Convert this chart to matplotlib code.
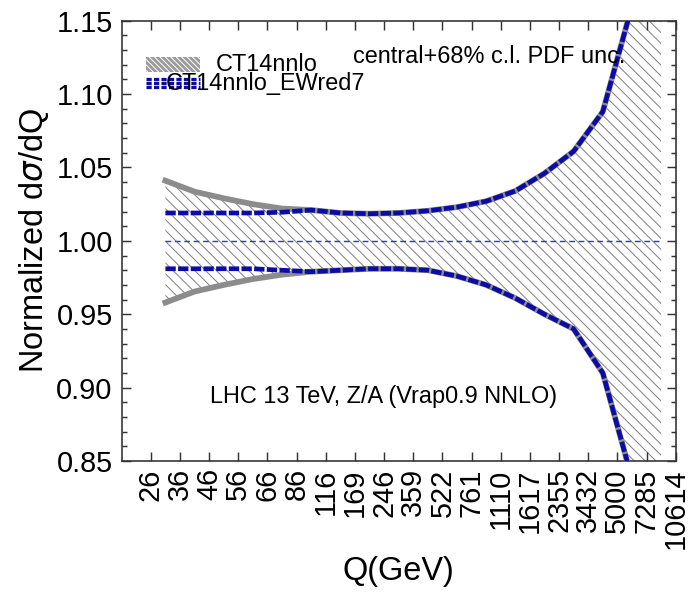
import matplotlib
matplotlib.use("Agg")
import matplotlib.pyplot as plt
from matplotlib.patches import Rectangle
from matplotlib.lines import Line2D
from matplotlib.ticker import MultipleLocator, FormatStrFormatter
import numpy as np

# bin edges in Q (GeV), shown as tick labels
q_labels = ["26", "36", "46", "56", "66", "86", "116", "169", "246", "359",
            "522", "761", "1110", "1617", "2355", "3432", "5000", "7285", "10614"]

# CT14nnlo 68% c.l. band, one value per Q bin
ct14_hi = [1.041, 1.0335, 1.029, 1.025, 1.022, 1.021, 1.019, 1.0185, 1.019,
           1.0205, 1.023, 1.027, 1.034, 1.046, 1.061, 1.088, 1.160, 1.26]
ct14_lo = [0.958, 0.9655, 0.970, 0.974, 0.977, 0.979, 0.980, 0.981, 0.981,
           0.980, 0.976, 0.970, 0.961, 0.950, 0.940, 0.910, 0.838, 0.74]

# CT14nnlo_EWred7 band
ewred7_hi = [1.019, 1.019, 1.019, 1.019, 1.0195, 1.021, 1.019, 1.0185, 1.019,
             1.0205, 1.023, 1.027, 1.034, 1.046, 1.061, 1.088, 1.160, 1.26]
ewred7_lo = [0.981, 0.981, 0.981, 0.981, 0.980, 0.979, 0.980, 0.981, 0.981,
             0.980, 0.976, 0.970, 0.961, 0.950, 0.940, 0.910, 0.838, 0.74]

central = [1.0] * 18

GRAY = "#8c8c8c"
BLUE = "#0b0ba6"


def draw_legend(ax):
    # hand made legend, the second label overlaps its own key like the original
    ax.add_patch(Rectangle((0.044, 0.884), 0.097, 0.034, transform=ax.transAxes,
                           facecolor="#9a9a9a", edgecolor="white",
                           hatch="\\" * 8, linewidth=0, zorder=5))
    for yy in (0.867, 0.858, 0.849):
        ax.add_line(Line2D([0.044, 0.141], [yy, yy], transform=ax.transAxes,
                           color=BLUE, lw=1.8, dashes=(1.6, 0.7), zorder=5))
    ax.text(0.170, 0.901, "CT14nnlo", transform=ax.transAxes, fontsize=13,
            va="center", ha="left", zorder=6)
    ax.text(0.080, 0.8585, "CT14nnlo_EWred7", transform=ax.transAxes, fontsize=13,
            va="center", ha="left", zorder=6)


def main():
    plt.rcParams["font.family"] = ["Liberation Sans", "DejaVu Sans"]
    plt.rcParams["hatch.linewidth"] = 0.55

    fig = plt.figure(figsize=(693 / 130, 598 / 130), dpi=130)
    ax = fig.add_axes([0.1756, 0.229, 0.7994, 0.7364])

    x = np.arange(len(ct14_hi)) + 1.5

    ax.fill_between(x, ct14_lo, ct14_hi, facecolor="none", edgecolor="#808080",
                    hatch="\\" * 4, linewidth=0, zorder=1)
    ax.plot(x, central, color="#3b3bb5", lw=0.8, dashes=(4, 2.5), zorder=2)

    ax.plot(x, ct14_hi, color=GRAY, lw=3.2, zorder=3)
    ax.plot(x, ct14_lo, color=GRAY, lw=3.2, zorder=3)
    ax.plot(x, ewred7_hi, color=BLUE, lw=2.6, dashes=(2.2, 0.5), zorder=4)
    ax.plot(x, ewred7_lo, color=BLUE, lw=2.6, dashes=(2.2, 0.5), zorder=4)

    ax.set_xlim(0, 19)
    ax.set_ylim(0.85, 1.15)
    ax.set_xticks(np.arange(1, len(q_labels) + 1))
    ax.set_xticklabels(q_labels, rotation=90)
    ax.yaxis.set_major_locator(MultipleLocator(0.05))
    ax.yaxis.set_minor_locator(MultipleLocator(0.01))
    ax.yaxis.set_major_formatter(FormatStrFormatter("%.2f"))

    ax.tick_params(which="both", direction="in", top=True, right=True,
                   color="#333333", width=0.8, labelsize=16)
    ax.tick_params(which="major", length=5)
    ax.tick_params(which="minor", length=3)
    ax.tick_params(axis="x", pad=4)
    ax.tick_params(axis="y", pad=5)
    for sp in ax.spines.values():
        sp.set_linewidth(0.9)
        sp.set_color("#333333")

    ax.set_xlabel("Q(GeV)", fontsize=18, labelpad=4)
    ax.set_ylabel(r"Normalized d$\sigma$/dQ", fontsize=18, labelpad=3)

    ax.text(0.9085, 0.918, "central+68% c.l. PDF unc.", transform=ax.transAxes,
            fontsize=13, ha="right", va="center", zorder=6)
    ax.text(0.473, 0.146, "LHC 13 TeV, Z/A (Vrap0.9 NNLO)", transform=ax.transAxes,
            fontsize=13, ha="center", va="center", zorder=6)

    draw_legend(ax)

    fig.savefig("out.png", dpi=130)


if __name__ == "__main__":
    main()
